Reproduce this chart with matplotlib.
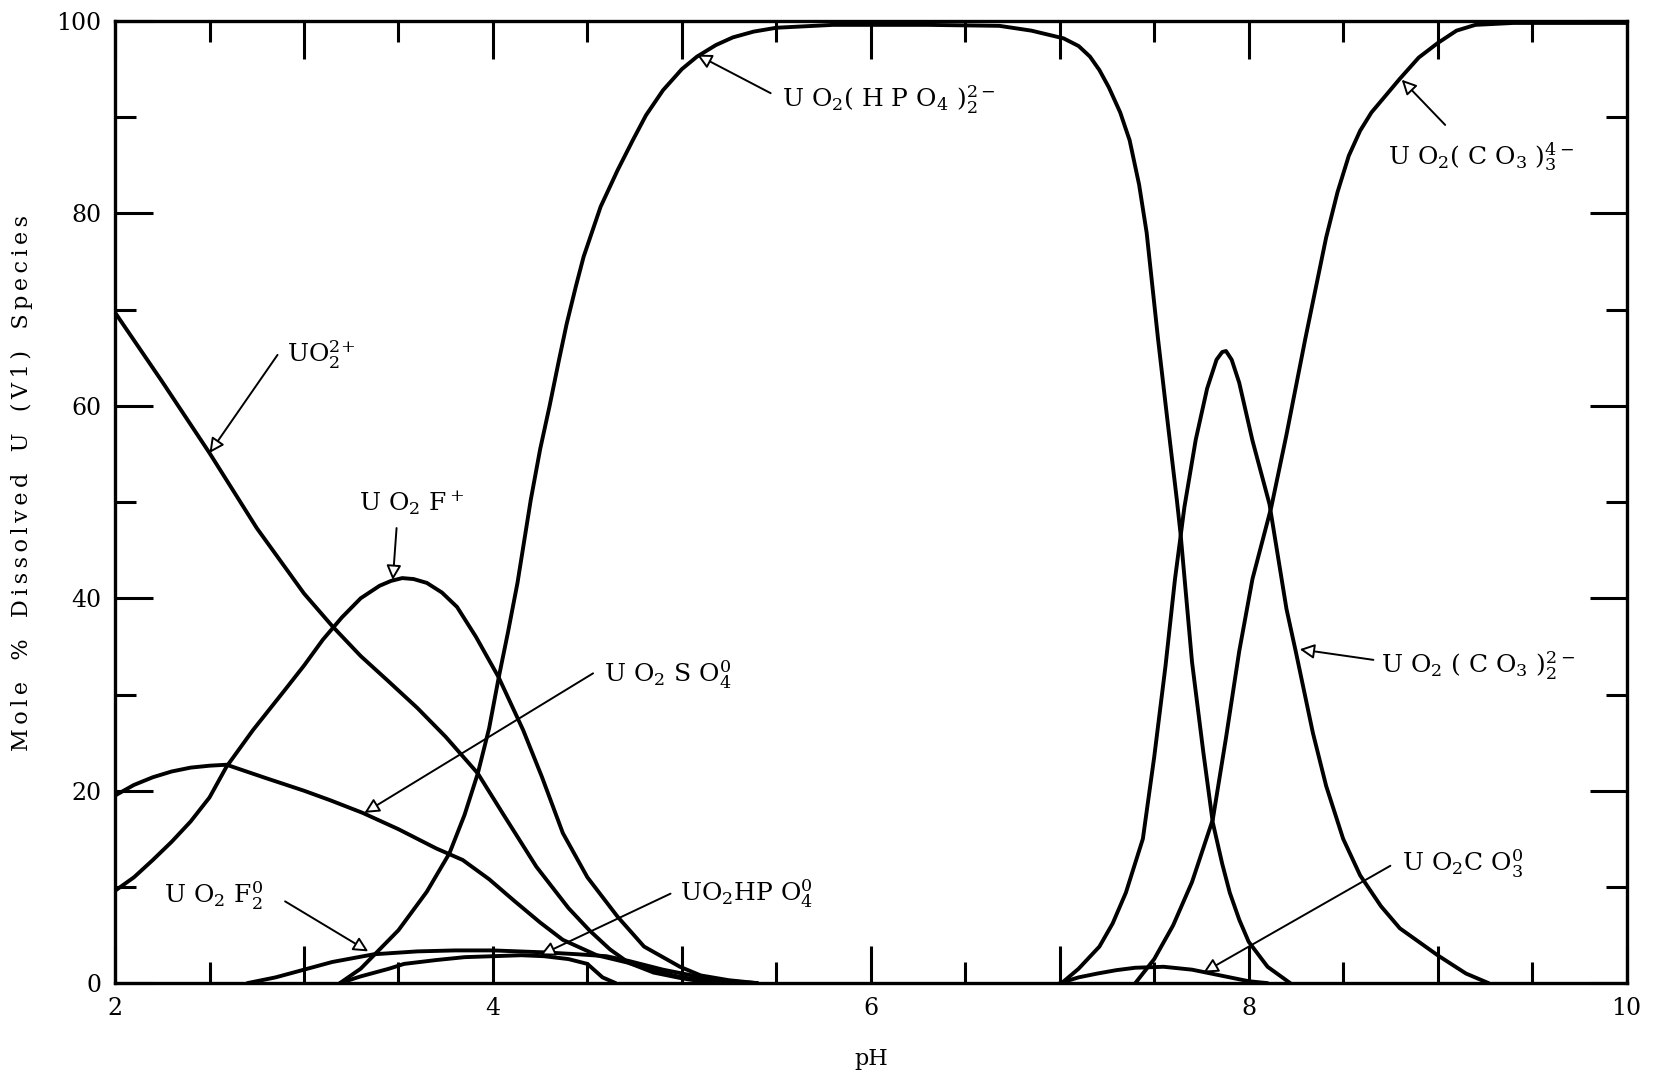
import matplotlib
matplotlib.use("Agg")
import matplotlib.pyplot as plt
from matplotlib.ticker import MultipleLocator, FuncFormatter

plt.rcParams["font.family"] = ["DejaVu Serif"]
plt.rcParams["mathtext.fontset"] = "custom"
plt.rcParams["mathtext.rm"] = "DejaVu Serif"
plt.rcParams["mathtext.it"] = "DejaVu Serif"

# species distribution, mole % of dissolved U(VI) vs pH
ph_uo2 = [2.0, 2.25, 2.5, 2.75, 3.0, 3.15, 3.3, 3.44, 3.6, 3.75, 3.92, 4.05,
          4.23, 4.4, 4.51, 4.62, 4.72, 4.85, 5.0, 5.1, 5.25]
pct_uo2 = [69.7, 62.5, 55.1, 47.3, 40.5, 37.1, 34.0, 31.5, 28.6, 25.6, 21.8, 17.7,
           12.1, 7.8, 5.5, 3.5, 2.1, 1.1, 0.5, 0.2, 0.0]

ph_uo2f = [2.0, 2.1, 2.2, 2.3, 2.4, 2.5, 2.59, 2.73, 2.9, 3.0, 3.1, 3.2, 3.3, 3.4,
           3.46, 3.52, 3.58, 3.65, 3.73, 3.81, 3.91, 4.03, 4.16, 4.26, 4.37, 4.5,
           4.66, 4.8, 4.99, 5.1, 5.25, 5.4]
pct_uo2f = [9.6, 11.0, 12.8, 14.7, 16.8, 19.3, 22.5, 26.3, 30.5, 33.0, 35.7, 38.0,
            40.0, 41.3, 41.8, 42.1, 42.0, 41.6, 40.6, 39.1, 36.0, 31.8, 26.3, 21.4,
            15.6, 11.0, 6.9, 3.8, 1.7, 0.8, 0.3, 0.0]

ph_so4 = [2.0, 2.1, 2.2, 2.3, 2.4, 2.5, 2.59, 2.8, 3.0, 3.14, 3.31, 3.5, 3.7,
          3.84, 3.98, 4.11, 4.25, 4.37, 4.55, 4.72, 4.85, 5.0, 5.2, 5.3]
pct_so4 = [19.5, 20.6, 21.4, 22.0, 22.4, 22.6, 22.7, 21.3, 20.0, 19.0, 17.7, 16.0,
           14.0, 12.8, 10.8, 8.6, 6.3, 4.5, 2.9, 2.1, 1.3, 0.6, 0.1, 0.0]

ph_hpo4_2 = [3.19, 3.3, 3.37, 3.5, 3.65, 3.77, 3.85, 3.92, 3.98, 4.03, 4.08, 4.13,
             4.2, 4.25, 4.3, 4.35, 4.39, 4.44, 4.48, 4.57, 4.66, 4.74, 4.81, 4.9,
             5.0, 5.08, 5.18, 5.27, 5.38, 5.5, 5.8, 6.3, 6.68, 6.85, 7.02, 7.1,
             7.16, 7.21, 7.26, 7.32, 7.37, 7.42, 7.46, 7.49, 7.52, 7.57, 7.62, 7.64,
             7.7, 7.76, 7.81, 7.86, 7.9, 7.95, 8.0, 8.1, 8.22]
pct_hpo4_2 = [0.0, 1.5, 2.9, 5.5, 9.5, 13.5, 17.5, 21.8, 26.5, 31.7, 36.5, 41.6,
              50.2, 55.5, 60.0, 64.8, 68.5, 72.5, 75.5, 80.7, 84.5, 87.6, 90.2, 92.8,
              95.0, 96.3, 97.5, 98.3, 98.9, 99.3, 99.6, 99.6, 99.5, 99.0, 98.2, 97.4,
              96.3, 94.9, 93.1, 90.5, 87.6, 83.0, 78.0, 72.5, 67.0, 58.5, 50.2, 46.6,
              33.4, 24.0, 16.7, 12.4, 9.4, 6.6, 4.3, 1.7, 0.0]

ph_co3_2 = [7.01, 7.1, 7.21, 7.28, 7.35, 7.44, 7.5, 7.56, 7.61, 7.66, 7.72, 7.78,
            7.83, 7.86, 7.88, 7.91, 7.95, 8.02, 8.11, 8.2, 8.25, 8.34, 8.41, 8.5,
            8.59, 8.7, 8.8, 9.0, 9.15, 9.27]
pct_co3_2 = [0.0, 1.5, 3.8, 6.2, 9.4, 15.0, 23.5, 33.0, 42.0, 49.5, 56.5, 61.8,
             64.8, 65.6, 65.7, 64.8, 62.4, 56.4, 49.8, 38.9, 34.4, 26.0, 20.5, 15.0,
             11.2, 8.0, 5.7, 2.9, 1.0, 0.0]

ph_co3_3 = [7.4, 7.5, 7.6, 7.7, 7.81, 7.88, 7.95, 8.02, 8.12, 8.2, 8.3, 8.41,
            8.47, 8.53, 8.59, 8.65, 8.8, 8.9, 9.0, 9.1, 9.2, 9.4, 10.0]
pct_co3_3 = [0.0, 2.5, 6.0, 10.5, 17.0, 25.5, 34.5, 42.0, 49.5, 57.0, 67.0, 77.5,
             82.2, 86.0, 88.6, 90.5, 94.0, 96.2, 97.7, 99.0, 99.6, 99.8, 99.8]

ph_co3 = [7.0, 7.1, 7.2, 7.3, 7.4, 7.55, 7.7, 7.85, 8.0, 8.1]
pct_co3 = [0.0, 0.6, 1.0, 1.35, 1.6, 1.7, 1.4, 0.8, 0.2, 0.0]

ph_f2 = [2.7, 2.85, 3.0, 3.15, 3.37, 3.6, 3.8, 4.0, 4.27, 4.45, 4.6, 4.72,
         4.9, 5.08, 5.25, 5.4]
pct_f2 = [0.0, 0.6, 1.4, 2.2, 3.0, 3.3, 3.4, 3.4, 3.2, 3.0, 2.8, 2.3,
          1.4, 0.7, 0.2, 0.0]

ph_hpo4 = [3.19, 3.3, 3.45, 3.53, 3.7, 3.85, 4.0, 4.15, 4.27, 4.4, 4.5, 4.58, 4.65]
pct_hpo4 = [0.0, 0.7, 1.5, 2.0, 2.4, 2.7, 2.8, 2.9, 2.8, 2.5, 2.0, 0.6, 0.0]

series = [
    (ph_uo2, pct_uo2), (ph_uo2f, pct_uo2f), (ph_so4, pct_so4),
    (ph_hpo4_2, pct_hpo4_2), (ph_co3_2, pct_co3_2), (ph_co3_3, pct_co3_3),
    (ph_co3, pct_co3), (ph_f2, pct_f2), (ph_hpo4, pct_hpo4),
]

fig = plt.figure(figsize=(16.53, 10.78), dpi=100)
ax = fig.add_axes([0.0696, 0.088, 0.9144, 0.8925])

for xs, ys in series:
    ax.plot(xs, ys, color="black", lw=2.8, solid_joinstyle="round",
            solid_capstyle="round")

ax.set_xlim(2, 10)
ax.set_ylim(0, 100)
ax.xaxis.set_major_locator(MultipleLocator(1))
ax.xaxis.set_minor_locator(MultipleLocator(0.5))
ax.xaxis.set_major_formatter(FuncFormatter(lambda v, p: f"{v:.0f}" if round(v) % 2 == 0 else ""))
ax.yaxis.set_major_locator(MultipleLocator(20))
ax.yaxis.set_minor_locator(MultipleLocator(10))
ax.tick_params(which="both", direction="in", top=True, right=True, width=2.2,
               labelsize=17, pad=10)
ax.tick_params(which="major", length=27)
ax.tick_params(which="minor", length=15)
for sp in ax.spines.values():
    sp.set_linewidth(2.4)

thin = "\u2009"
ylab = "   ".join(thin.join(w) for w in ["Mole", "%", "Dissolved", "U", "(V1)", "Species"])
ax.set_ylabel(ylab, fontsize=16)
ax.yaxis.set_label_coords(-0.054, 0.52)
ax.set_xlabel("pH", fontsize=16, labelpad=20)

# species labels: (text, text position, arrow tail, arrow tip)
labels = [
    (r"UO$_2^{2}$$^{+}$", (2.91, 65.3), (2.86, 65.3), (2.50, 55.1)),
    (r"U O$_2$ F$^+$", (3.29, 49.9), (3.49, 47.3), (3.47, 41.9)),
    (r"U O$_2$ S O$_4^0$", (4.59, 32.0), (4.53, 32.2), (3.32, 17.7)),
    (r"UO$_2$HP O$_4^0$", (4.99, 9.3), (4.94, 9.3), (4.25, 2.9)),
    (r"U O$_2$ F$_2^0$", (2.26, 9.1), (2.90, 8.5), (3.34, 3.3)),
    (r"U O$_2$( H P O$_4$ )$_2^{2-}$", (5.53, 91.8), (5.47, 92.5), (5.08, 96.5)),
    (r"U O$_2$( C O$_3$ )$_3^{4-}$", (8.74, 85.8), (9.04, 89.2), (8.81, 93.9)),
    (r"U O$_2$ ( C O$_3$ )$_2^{2-}$", (8.70, 33.0), (8.66, 33.6), (8.27, 34.7)),
    (r"U O$_2$C O$_3^0$", (8.81, 12.4), (8.75, 12.2), (7.76, 1.1)),
]
for text, pos, tail, tip in labels:
    ax.text(pos[0], pos[1], text, fontsize=18, ha="left", va="center")
    ax.annotate("", xy=tip, xytext=tail,
                arrowprops=dict(arrowstyle="-|>", fc="white", ec="black", lw=1.4,
                                mutation_scale=22, shrinkA=0, shrinkB=0))

fig.savefig("out.png", dpi=100)
